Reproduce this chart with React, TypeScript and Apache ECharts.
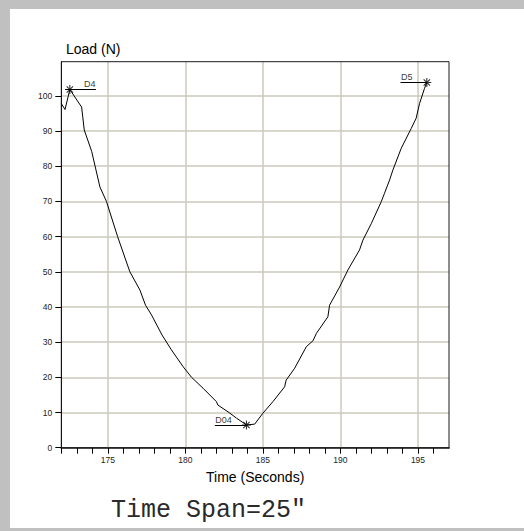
import React, { useEffect, useRef } from 'react';
import * as echarts from 'echarts';

// Load trace (time in seconds, load in newtons)
const timeSec = [
  172.0, 172.24, 172.55, 173.31, 173.48, 173.96, 174.49, 174.91, 175.63, 176.42,
  177.07, 177.43, 177.82, 178.5, 179.1, 179.86, 180.4, 181.14, 182.0, 182.1,
  182.75, 183.3, 183.94, 184.47, 185.0, 185.65, 186.4, 186.5, 187.05, 187.8,
  188.23, 188.45, 189.19, 189.3, 189.95, 190.48, 191.23, 191.45, 191.99, 192.63,
  192.84, 193.17, 193.38, 193.92, 194.56, 194.88, 195.1, 195.42, 195.57,
];
const loadN = [
  97.8, 96.1, 101.8, 96.8, 90.3, 84.2, 74.1, 70.0, 60.0, 50.0,
  44.8, 40.5, 37.7, 32.0, 27.8, 23.0, 20.0, 16.9, 13.1, 12.1,
  10.2, 8.4, 6.45, 6.7, 9.8, 13.1, 17.3, 19.2, 22.6, 28.7,
  30.4, 32.5, 37.2, 40.5, 45.7, 50.5, 56.2, 59.0, 63.7, 69.9,
  72.3, 76.1, 78.9, 85.1, 90.7, 93.6, 97.8, 102.1, 103.8,
];

// Marked points and their leader lines
const markerNames = ['D4', 'D04', 'D5'];
const markerTimes = [172.55, 183.94, 195.57];
const markerLoads = [101.8, 6.45, 103.8];
const leaderFrom = [172.25, 181.9, 193.87];
const leaderTo = [174.23, 183.94, 195.57];

const xMajorTicks = [175, 180, 185, 190, 195];
const xMinorTicks = [172, 173, 174, 175, 176, 177, 178, 179, 180, 181, 182, 183, 184, 185, 186, 187, 188, 189, 190, 191, 192, 193, 194, 195, 196];
const yTicks = [0, 10, 20, 30, 40, 50, 60, 70, 80, 90, 100];

const yTitle = 'Load (N)';
const xTitle = 'Time (Seconds)';
const spanText = 'Time Span=25"';

const SANS = '"Liberation Sans", Arial, sans-serif';
const MONO = '"Liberation Mono", "Courier New", monospace';
const GRID = '#cbc8bc';

// asterisk made of four thin bars
const STAR =
  'path://M0 8.8H20V11.2H0Z M8.8 0H11.2V20H8.8Z M3.78 2.08L17.92 16.22L16.22 17.92L2.08 3.78Z M16.22 2.08L17.92 3.78L3.78 17.92L2.08 16.22Z';

const labelOffsets: Record<string, number[]> = {
  D4: [20, -5.5],
  D04: [-23, -5],
  D5: [-20, -5.5],
};

export default function App() {
  const ref = useRef<HTMLDivElement>(null);

  useEffect(() => {
    if (!ref.current) return;
    const chart = echarts.init(ref.current, undefined, { renderer: 'svg' });

    const lineData = timeSec.map((t, i) => [t, loadN[i]]);

    chart.setOption({
      animation: false,
      backgroundColor: 'transparent',
      title: {
        text: yTitle,
        left: 61,
        top: 37,
        textStyle: { fontFamily: SANS, fontSize: 14, fontWeight: 'normal', color: '#000' },
      },
      grid: {
        left: 61.3,
        top: 61.7,
        right: 75,
        bottom: 83.3,
        show: true,
        borderColor: '#1a1a1a',
        borderWidth: 1,
        backgroundColor: 'transparent',
        z: 3,
      },
      xAxis: {
        type: 'value',
        min: 172,
        max: 197,
        interval: 1,
        name: xTitle,
        nameLocation: 'middle',
        nameGap: 20,
        nameTextStyle: { fontFamily: SANS, fontSize: 14, color: '#000' },
        axisLine: { show: true, onZero: false, lineStyle: { color: '#555', width: 2 } },
        axisTick: {
          show: true,
          inside: false,
          length: 6,
          customValues: xMinorTicks,
          lineStyle: { color: '#000', width: 1 },
        },
        axisLabel: {
          customValues: xMajorTicks,
          formatter: (v: number) => (xMajorTicks.includes(v) ? String(v) : ''),
          fontFamily: SANS,
          fontSize: 8.5,
          color: '#222',
          margin: 8,
        },
        splitLine: { show: false },
      },
      yAxis: {
        type: 'value',
        min: 0,
        max: 109.7,
        interval: 10,
        axisLine: { show: true, onZero: false, lineStyle: { color: '#000', width: 1 } },
        axisTick: {
          show: true,
          length: 6,
          customValues: yTicks,
          lineStyle: { color: '#000', width: 1 },
        },
        axisLabel: {
          customValues: yTicks,
          formatter: (v: number) => (yTicks.includes(v) ? String(v) : ''),
          fontFamily: SANS,
          fontSize: 8.5,
          color: '#222',
          margin: 9,
        },
        splitLine: {
          show: true,
          lineStyle: { color: GRID, width: 1.5 },
        },
      },
      series: [
        {
          // vertical grid lines at the labelled seconds
          type: 'line',
          data: [],
          silent: true,
          z: 1,
          markLine: {
            silent: true,
            z: 1,
            symbol: 'none',
            label: { show: false },
            lineStyle: { color: GRID, width: 1.5, type: 'solid' },
            data: xMajorTicks.map((v) => ({ xAxis: v })),
          },
        },
        {
          type: 'line',
          data: lineData,
          showSymbol: false,
          z: 3,
          lineStyle: { color: '#000', width: 1 },
        },
        {
          type: 'scatter',
          z: 4,
          symbol: STAR,
          symbolSize: 9,
          itemStyle: { color: '#000' },
          data: markerNames.map((name, i) => ({
            name,
            value: [markerTimes[i], markerLoads[i]],
            label: { offset: labelOffsets[name] },
          })),
          label: {
            show: true,
            position: 'inside',
            formatter: '{b}',
            fontFamily: SANS,
            fontSize: 9,
            color: '#000',
          },
          markLine: {
            silent: true,
            z: 4,
            symbol: 'none',
            label: { show: false },
            lineStyle: { color: '#000', width: 1, type: 'solid' },
            data: markerNames.map((_, i) => [
              { coord: [leaderFrom[i], markerLoads[i]] },
              { coord: [leaderTo[i], markerLoads[i]] },
            ]),
          },
        },
      ],
      graphic: [
        {
          type: 'text',
          left: 111,
          top: 498,
          style: {
            text: spanText,
            font: `25px ${MONO}`,
            fill: '#2a2a2a',
          },
        },
      ],
    });

    return () => chart.dispose();
  }, []);

  return (
    <div style={{ position: 'fixed', left: 0, top: 0, width: 524, height: 531, background: '#c0c0c0' }}>
      <div style={{ position: 'absolute', left: 10, top: 9, width: 514, height: 519, background: '#fff' }} />
      <div ref={ref} style={{ position: 'absolute', left: 0, top: 0, width: 524, height: 531 }} />
    </div>
  );
}
